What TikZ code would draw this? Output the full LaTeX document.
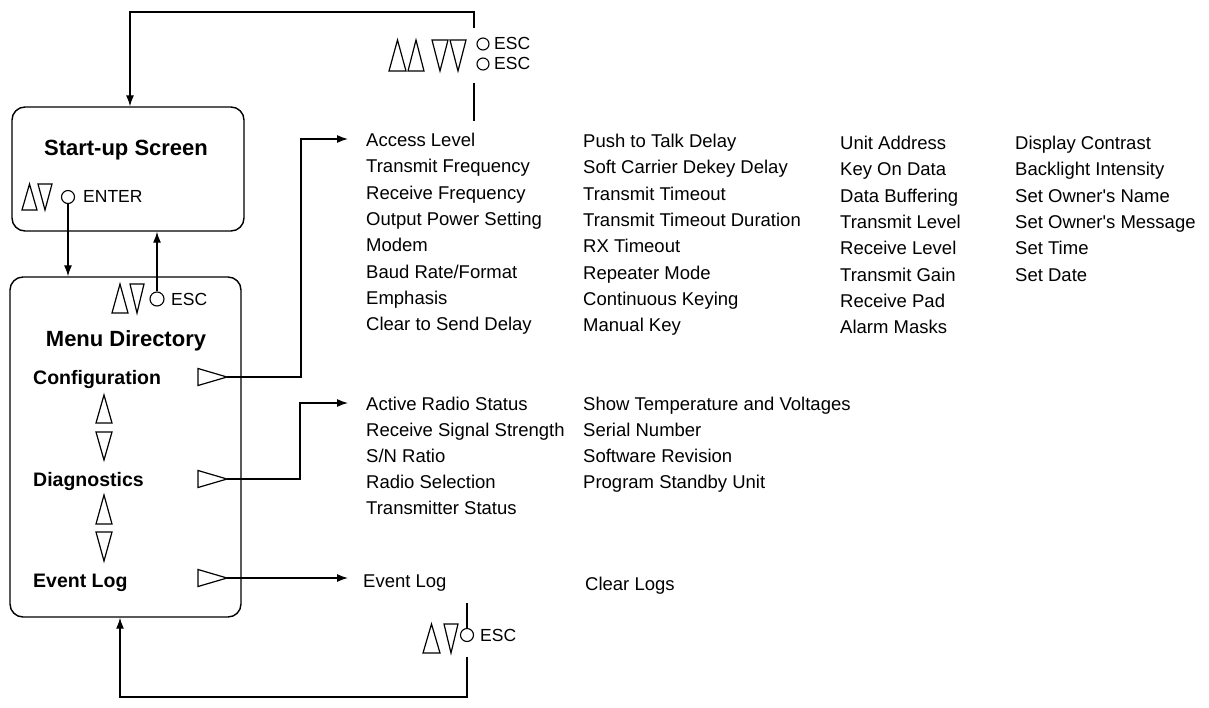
\documentclass[tikz,border=0pt]{standalone}
\usepackage{fontspec}
\setmainfont{Liberation Sans}
\usetikzlibrary{arrows.meta}
\newcommand{\tup}[4]{\draw[tri] (#1,#4) -- ({(#1+#2)/2},#3) -- (#2,#4) -- cycle;}
\newcommand{\tdn}[4]{\draw[tri] (#1,#3) -- (#2,#3) -- ({(#1+#2)/2},#4) -- cycle;}
\newcommand{\tright}[4]{\draw[tri] (#1,{#3-8.5}) -- (#2,#3) -- (#1,{#3+8.5}) -- cycle; \coordinate (#4) at (#2,#3);}
\begin{document}
\begin{tikzpicture}[x=1pt,y=-1pt,
  item/.style={anchor=west, inner sep=0pt, text height=13.1pt, text depth=0pt, font=\fontsize{18.5}{20}\selectfont},
  lbl/.style={anchor=west, inner sep=0pt, text height=14pt, text depth=0pt, font=\fontsize{19.5}{22}\selectfont\bfseries},
  ttl/.style={anchor=center, inner sep=0pt, text height=15.8pt, text depth=0pt, font=\fontsize{22}{24}\selectfont\bfseries},
  key/.style={anchor=west, inner sep=0pt, text height=12.5pt, text depth=0pt, font=\fontsize{17.5}{20}\selectfont},
  box/.style={draw, line width=1.4pt, rounded corners=13pt, inner sep=0pt},
  wire/.style={line width=1.3pt},
  arr/.style={wire, -{Latex[length=11pt,width=8pt]}},
  tri/.style={line width=1.2pt, line join=miter},
  btn/.style={draw, circle, line width=1.1pt, minimum size=13pt, inner sep=0pt}]
\useasboundingbox (0,0) rectangle (1209,707);

% boxes
\node[box, minimum width=232pt, minimum height=124pt] (startup) at (128,169) {};
\node[box, minimum width=231pt, minimum height=340pt] (menu) at (125.5,447) {};

% start-up content
\node[ttl] (sutitle) at (126,148) {Start-up Screen};
\tup{22}{37}{184}{210}
\tdn{38}{52}{184}{210}
\node[btn] (enterc) at (68,197) {};
\node[key] (entert) at (83,196) {ENTER};

% menu content
\tup{112}{128}{284}{313}
\tdn{130}{144}{284}{313}
\node[btn, minimum size=14pt] (escm) at (157,299) {};
\node[key] (escmt) at (171,299) {ESC};
\node[ttl] (mdtitle) at (126,339) {Menu Directory};
\node[lbl] (cfg) at (33,377) {Configuration};
\node[lbl] (diag) at (33,479) {Diagnostics};
\node[lbl] (evl) at (33,580) {Event Log};
\tup{96}{112}{395}{423}
\tdn{96}{112}{432}{460}
\tup{96}{112}{495}{524}
\tdn{96}{112}{532}{561}
\tright{198}{227}{377}{cfgtip}
\tright{198}{227}{479}{diagtip}
\tright{198}{227}{578}{evltip}

% top ESC group
\tup{389}{406}{40}{71}
\tup{408}{424}{40}{71}
\tdn{432}{448}{40}{71}
\tdn{450}{466}{40}{71}
\node[btn, minimum size=12pt] (esct1) at (483,44) {};
\node[btn, minimum size=12pt] (esct2) at (483,64) {};
\node[key] (esct1t) at (494,43) {ESC};
\node[key] (esct2t) at (494,63) {ESC};

% bottom ESC group
\tup{423}{440}{624}{653}
\tdn{444}{458}{624}{653}
\node[btn] (escb) at (467,635) {};
\node[key] (escbt) at (480,635) {ESC};

% configuration list
\foreach \t [count=\i from 0] in {Access Level, Transmit Frequency, Receive Frequency, Output Power Setting, Modem, Baud Rate/Format, Emphasis, Clear to Send Delay}
  \node[item] (ca\i) at (366,{140+26.3*\i}) {\t};
\foreach \t [count=\i from 0] in {Push to Talk Delay, Soft Carrier Dekey Delay, Transmit Timeout, Transmit Timeout Duration, RX Timeout, Repeater Mode, Continuous Keying, Manual Key}
  \node[item] (cb\i) at (583,{141+26.3*\i}) {\t};
\foreach \t [count=\i from 0] in {Unit Address, Key On Data, Data Buffering, Transmit Level, Receive Level, Transmit Gain, Receive Pad, Alarm Masks}
  \node[item] (cc\i) at (840,{143+26.3*\i}) {\t};
\foreach \t [count=\i from 0] in {Display Contrast, Backlight Intensity, Set Owner\textquotesingle s Name, Set Owner\textquotesingle s Message, Set Time, Set Date}
  \node[item] (cd\i) at (1015,{143+26.3*\i}) {\t};

% diagnostics list
\foreach \t [count=\i from 0] in {Active Radio Status, Receive Signal Strength, S/N Ratio, Radio Selection, Transmitter Status}
  \node[item] (da\i) at (366,{404+26*\i}) {\t};
\foreach \t [count=\i from 0] in {Show Temperature and Voltages, Serial Number, Software Revision, Program Standby Unit}
  \node[item] (db\i) at (583,{404+26*\i}) {\t};

% event log list
\node[item] (ea) at (363,581) {Event Log};
\node[item] (eb) at (585,584) {Clear Logs};

% connector coordinates
\coordinate (cfgin) at (348,139);
\coordinate (diagin) at (348,403);
\coordinate (evlin) at (348,578);
\coordinate (topstart) at (474,28);
\coordinate (topturn) at (130,12);
\coordinate (midA) at (474,83);
\coordinate (midB) at (474,121);
\coordinate (botstart) at (467,657);
\coordinate (botturn) at (120,697);
\coordinate (botabove) at (467,603);

% connectors
\draw[arr] (enterc.south) -- (enterc.south |- menu.north);
\draw[arr] (escm.north) -- (escm.north |- startup.south);
\draw[arr] (cfgtip) -- (301,377) |- (cfgin);
\draw[arr] (diagtip) -- (300,479) |- (diagin);
\draw[arr] (evltip) -- (evlin);
\draw[arr] (topstart) |- (topturn) -- (topturn |- startup.north);
\draw[wire] (midA) -- (midB);
\draw[arr] (botstart) |- (botturn) -- (botturn |- menu.south);
\draw[wire] (botabove) -- (escb.north);
\end{tikzpicture}
\end{document}
